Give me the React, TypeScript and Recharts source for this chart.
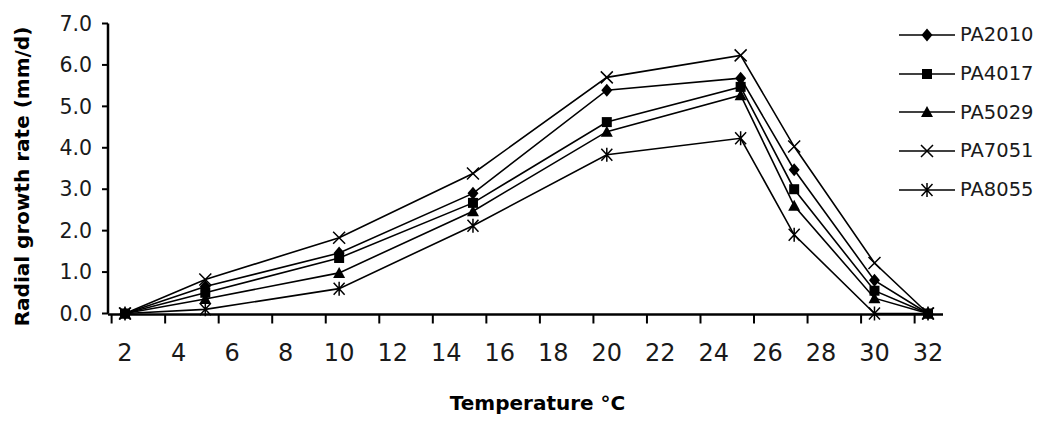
import React from 'react';
import { LineChart, Line, XAxis, YAxis, Legend } from 'recharts';

const temperatures = [2, 5, 10, 15, 20, 25, 27, 30, 32];
const pa2010 = [0, 0.65, 1.46, 2.9, 5.39, 5.68, 3.47, 0.8, 0];
const pa4017 = [0, 0.5, 1.34, 2.67, 4.62, 5.47, 3.0, 0.55, 0];
const pa5029 = [0, 0.35, 0.98, 2.47, 4.39, 5.27, 2.6, 0.37, 0];
const pa7051 = [0, 0.82, 1.83, 3.38, 5.7, 6.23, 4.03, 1.22, 0];
const pa8055 = [0, 0.1, 0.6, 2.12, 3.83, 4.23, 1.9, 0, 0];

const seriesNames = ['PA2010', 'PA4017', 'PA5029', 'PA7051', 'PA8055'];
const seriesMarkers = ['diamond', 'square', 'triangle', 'cross', 'star'];
const xTickLabels = [2, 4, 6, 8, 10, 12, 14, 16, 18, 20, 22, 24, 26, 28, 30, 32];
const xTickMarks = [1.5, 3.5, 5.5, 7.5, 9.5, 11.5, 13.5, 15.5, 17.5, 19.5, 21.5, 23.5, 25.5, 27.5, 29.5, 31.5];
const yTicks = [0, 1, 2, 3, 4, 5, 6, 7];
const xDomain = [1.365, 32.56];

const seriesValues = [pa2010, pa4017, pa5029, pa7051, pa8055];
const data = temperatures.map((t, i) => {
  const row: Record<string, number> = { t };
  seriesNames.forEach((n, k) => {
    row[n] = seriesValues[k][i];
  });
  return row;
});

const FONT = "'DejaVu Sans', sans-serif";

function Marker({ kind, cx, cy }: { kind: string; cx: number; cy: number }) {
  switch (kind) {
    case 'diamond':
      return <polygon points={`${cx},${cy - 6.5} ${cx + 5.5},${cy} ${cx},${cy + 6.5} ${cx - 5.5},${cy}`} fill="#000" />;
    case 'square':
      return <rect x={cx - 5} y={cy - 5} width={10} height={10} fill="#000" />;
    case 'triangle':
      return <polygon points={`${cx},${cy - 6} ${cx + 6},${cy + 5} ${cx - 6},${cy + 5}`} fill="#000" />;
    case 'cross':
      return (
        <path d={`M${cx - 6},${cy - 6}L${cx + 6},${cy + 6}M${cx + 6},${cy - 6}L${cx - 6},${cy + 6}`} stroke="#000" strokeWidth={1.5} fill="none" />
      );
    default:
      return (
        <path
          d={`M${cx - 5.5},${cy - 6}L${cx + 5.5},${cy + 6}M${cx + 5.5},${cy - 6}L${cx - 5.5},${cy + 6}M${cx},${cy - 7}L${cx},${cy + 7}`}
          stroke="#000"
          strokeWidth={1.5}
          fill="none"
        />
      );
  }
}

const makeDot = (kind: string, name: string) => (p: any) => (
  <Marker key={`${name}-${p.index}`} kind={kind} cx={p.cx} cy={p.cy} />
);

const EmptyTick = () => <g />;

const XTick = (props: any) => {
  const { x, y, payload } = props;
  return (
    <text x={x} y={y} dy="0.73em" textAnchor="middle" fontFamily={FONT} fontSize={24} fill="#1a1a1a">
      {payload.value}
    </text>
  );
};

const XTitle = (props: any) => {
  const { viewBox } = props;
  return (
    <text
      x={viewBox.x + viewBox.width / 2 + 12}
      y={viewBox.y + 96.5}
      textAnchor="middle"
      fontFamily={FONT}
      fontWeight="bold"
      fontSize={20}
      fill="#000"
    >
      Temperature °C
    </text>
  );
};

const YTitle = (props: any) => {
  const { viewBox } = props;
  const x = viewBox.x - 26;
  const y = viewBox.y + viewBox.height / 2 + 8;
  return (
    <text
      x={x}
      y={y}
      transform={`rotate(-90, ${x}, ${y})`}
      textAnchor="middle"
      dominantBaseline="central"
      fontFamily={FONT}
      fontWeight="bold"
      fontSize={20}
      fill="#000"
    >
      Radial growth rate (mm/d)
    </text>
  );
};

const LegendContent = () => (
  <div style={{ fontFamily: FONT, fontSize: 19.5, color: '#1a1a1a', width: 150 }}>
    {seriesNames.map((n, i) => (
      <div key={n} style={{ display: 'flex', alignItems: 'center', height: 38.75 }}>
        <svg width={56} height={20} style={{ display: 'block' }}>
          <line x1={0} x2={56} y1={10} y2={10} stroke="#000" strokeWidth={1.6} />
          <Marker kind={seriesMarkers[i]} cx={28} cy={10} />
        </svg>
        <span style={{ marginLeft: 5, lineHeight: 1 }}>{n}</span>
      </div>
    ))}
  </div>
);

export default function App() {
  return (
    <LineChart width={1045} height={419} data={data} margin={{ top: 15.5, right: 110, bottom: 111.5, left: 40 }}>
      <XAxis
        xAxisId="marks"
        type="number"
        dataKey="t"
        domain={xDomain}
        ticks={xTickMarks}
        tick={<EmptyTick />}
        height={1}
        tickSize={9}
        axisLine={{ stroke: '#000', strokeWidth: 2.5 }}
        tickLine={{ stroke: '#000', strokeWidth: 2 }}
      />
      <XAxis
        xAxisId="labels"
        type="number"
        dataKey="t"
        domain={xDomain}
        ticks={xTickLabels}
        height={1}
        tickSize={8}
        tickMargin={22}
        axisLine={false}
        tickLine={false}
        tick={<XTick />}
        label={<XTitle />}
      />
      <YAxis
        type="number"
        domain={[0, 7]}
        ticks={yTicks}
        width={60}
        tickSize={6}
        tickMargin={10}
        tickFormatter={(v: number) => v.toFixed(1)}
        tick={{ fontFamily: FONT, fontSize: 20.5, fill: '#1a1a1a' }}
        axisLine={{ stroke: '#000', strokeWidth: 2.5 }}
        tickLine={{ stroke: '#000', strokeWidth: 2 }}
        label={<YTitle />}
      />
      <Legend
        layout="horizontal"
        verticalAlign="middle"
        align="center"
        content={<LegendContent />}
        wrapperStyle={{ left: 891, top: 7.6, width: 150 }}
      />
      {seriesNames.map((n, i) => (
        <Line
          key={n}
          xAxisId="labels"
          type="linear"
          dataKey={n}
          stroke="#000"
          strokeWidth={1.6}
          dot={makeDot(seriesMarkers[i], n)}
          activeDot={false}
          isAnimationActive={false}
        />
      ))}
    </LineChart>
  );
}
